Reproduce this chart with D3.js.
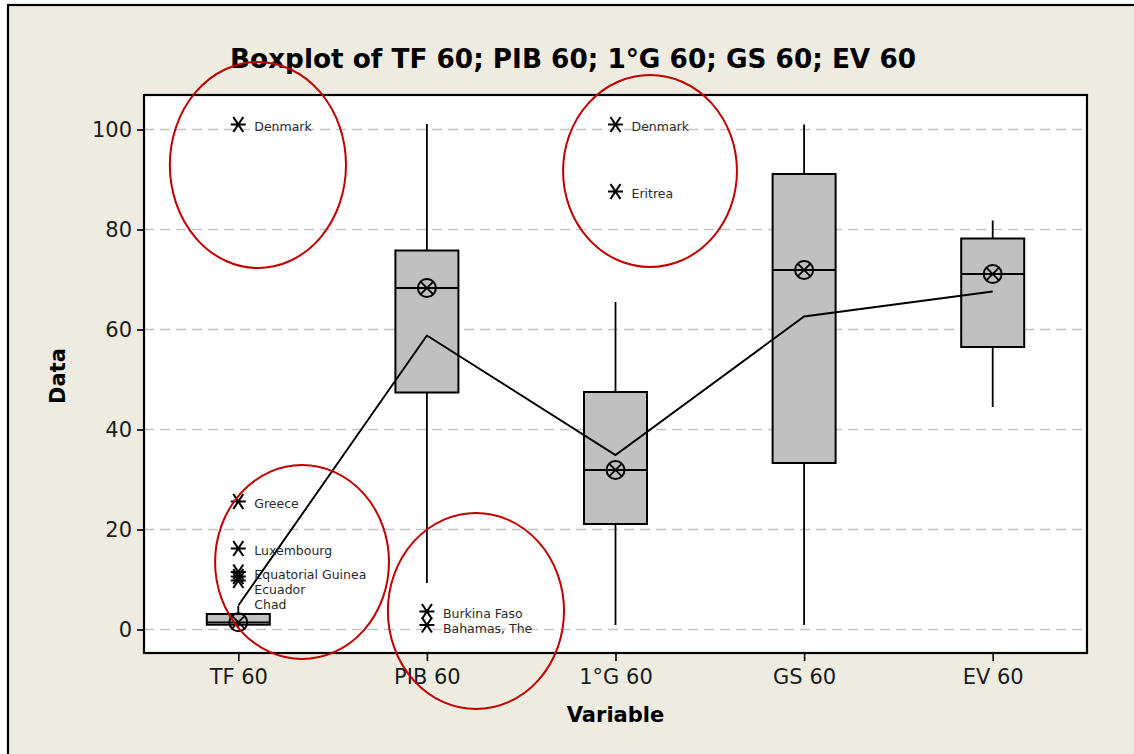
<!DOCTYPE html>
<html>
<head>
<meta charset="utf-8">
<script src="https://cdn.jsdelivr.net/npm/d3@7"></script>
<style>
  html, body { margin: 0; padding: 0; background: #ffffff; }
  svg { display: block; }
</style>
</head>
<body>
<svg id="chart" width="1134" height="754"></svg>
<script>
// ---- data ----
const categories = ["TF 60", "PIB 60", "1°G 60", "GS 60", "EV 60"];
const whiskerLow  = [0.3, 9.3, 0.9, 0.9, 44.5];
const q1          = [0.96, 47.4, 21.1, 33.3, 56.5];
const medians     = [1.44, 68.3, 31.9, 71.9, 71.1];
const q3          = [3.1, 75.8, 47.5, 91.1, 78.2];
const whiskerHigh = [4.7, 101.1, 65.5, 101.0, 81.8];
const means       = [4.8, 58.8, 34.9, 62.6, 67.6];

const outlierCategory = ["TF 60", "TF 60", "TF 60", "TF 60", "TF 60", "TF 60",
                         "PIB 60", "PIB 60", "1°G 60", "1°G 60"];
const outlierValue    = [101.0, 25.6, 16.2, 11.5, 10.6, 9.8, 3.6, 0.9, 101.0, 87.6];
const outlierLabel    = ["Denmark", "Greece", "Luxembourg", "Equatorial Guinea", "Ecuador", "Chad",
                         "Burkina Faso", "Bahamas, The", "Denmark", "Eritrea"];

const yTicks = [0, 20, 40, 60, 80, 100];

// highlight rings: centre (category index, value), radii (category steps, value units)
const ringIndex  = [0.104, 2.183, 0.338, 1.26];
const ringValue  = [92.9, 91.7, 13.5, 3.7];
const ringRx     = [0.467, 0.461, 0.461, 0.467];
const ringRy     = [20.6, 19.2, 19.4, 19.6];

// ---- layout ----
const svg = d3.select("#chart");
const W = 1134, H = 754;
const plot = { left: 144, top: 95, right: 1087, bottom: 653 };

const x = d3.scalePoint().domain(categories)
  .range([plot.left, plot.right]).padding(0.5);
const step = x.step();
const xi = d3.scaleLinear().domain([0, 1]).range([x(categories[0]), x(categories[0]) + step]);
const y = d3.scaleLinear().domain([-4.7, 106.9]).range([plot.bottom, plot.top]);

const ink = "#000000";
const textInk = "#1c1c1c";
const font = "DejaVu Sans, Verdana, sans-serif";

// outer panel (right and bottom edges run past the page)
svg.append("rect").attr("x", 8).attr("y", 5).attr("width", W + 20).attr("height", H + 20)
  .attr("fill", "#eeebe1").attr("stroke", "#000").attr("stroke-width", 2.2);

// plot area
svg.append("rect")
  .attr("x", plot.left).attr("y", plot.top)
  .attr("width", plot.right - plot.left).attr("height", plot.bottom - plot.top)
  .attr("fill", "#ffffff");

// grid lines
svg.append("g").selectAll("line").data(yTicks).join("line")
  .attr("x1", plot.left).attr("x2", plot.right)
  .attr("y1", d => y(d)).attr("y2", d => y(d))
  .attr("stroke", "#c4c4c4").attr("stroke-width", 1.6)
  .attr("stroke-dasharray", "10,6");

// y axis
const yAxis = svg.append("g").attr("transform", `translate(${plot.left},0)`)
  .call(d3.axisLeft(y).tickValues(yTicks).tickSize(7).tickPadding(5));
yAxis.select(".domain").remove();
yAxis.selectAll(".tick line").attr("stroke", ink).attr("stroke-width", 1.6);
yAxis.selectAll(".tick text")
  .attr("font-family", font).attr("font-size", 21).attr("fill", textInk);

// x axis
const xAxis = svg.append("g").attr("transform", `translate(0,${plot.bottom})`)
  .call(d3.axisBottom(x).tickSize(8).tickPadding(8));
xAxis.select(".domain").remove();
xAxis.selectAll(".tick line").attr("stroke", ink).attr("stroke-width", 1.6);
xAxis.selectAll(".tick text")
  .attr("font-family", font).attr("font-size", 21).attr("fill", textInk);

const idx = d3.range(categories.length);
const boxHalf = 31.5;

// whiskers
const boxes = svg.append("g");
boxes.selectAll("line.whi").data(idx).join("line").attr("class", "whi")
  .attr("x1", i => x(categories[i])).attr("x2", i => x(categories[i]))
  .attr("y1", i => y(q3[i])).attr("y2", i => y(whiskerHigh[i]))
  .attr("stroke", ink).attr("stroke-width", 1.8);
boxes.selectAll("line.wlo").data(idx).join("line").attr("class", "wlo")
  .attr("x1", i => x(categories[i])).attr("x2", i => x(categories[i]))
  .attr("y1", i => y(q1[i])).attr("y2", i => y(whiskerLow[i]))
  .attr("stroke", ink).attr("stroke-width", 1.8);

// boxes
boxes.selectAll("rect").data(idx).join("rect")
  .attr("x", i => x(categories[i]) - boxHalf).attr("width", boxHalf * 2)
  .attr("y", i => y(q3[i])).attr("height", i => y(q1[i]) - y(q3[i]))
  .attr("fill", "#c0c0c0").attr("stroke", ink).attr("stroke-width", 2);

// median lines
boxes.selectAll("line.med").data(idx).join("line").attr("class", "med")
  .attr("x1", i => x(categories[i]) - boxHalf).attr("x2", i => x(categories[i]) + boxHalf)
  .attr("y1", i => y(medians[i])).attr("y2", i => y(medians[i]))
  .attr("stroke", ink).attr("stroke-width", 1.8);

// mean connect line
svg.append("path")
  .datum(idx)
  .attr("d", d3.line().x(i => x(categories[i])).y(i => y(means[i])))
  .attr("fill", "none").attr("stroke", ink).attr("stroke-width", 1.9);

// median symbols (circle with cross)
const r = 9, c = r * 0.68;
const medSym = svg.append("g").selectAll("g").data(idx).join("g")
  .attr("transform", i => `translate(${x(categories[i])},${y(medians[i])})`);
medSym.append("circle").attr("r", r).attr("fill", "none")
  .attr("stroke", ink).attr("stroke-width", 2);
medSym.append("path").attr("d", `M${-c},${-c}L${c},${c}M${c},${-c}L${-c},${c}`)
  .attr("stroke", ink).attr("stroke-width", 1.8);

// outliers
const outliers = outlierValue.map((v, k) => ({
  cat: outlierCategory[k], value: v, label: outlierLabel[k]
}));
// label placement: stack downward so labels never overlap
d3.groups(outliers, d => d.cat).forEach(([, list]) => {
  list.sort((a, b) => b.value - a.value);
  let prev = -Infinity;
  list.forEach(d => {
    d.ly = Math.max(y(d.value), prev + 15);
    prev = d.ly;
  });
});

const star = "M-7.5,0L7.5,0M-5,-7.5L5,7.5M5,-7.5L-5,7.5";
const og = svg.append("g");
og.selectAll("path").data(outliers).join("path")
  .attr("transform", d => `translate(${x(d.cat)},${y(d.value)})`)
  .attr("d", star).attr("stroke", ink).attr("stroke-width", 2.1).attr("fill", "none");
og.selectAll("text").data(outliers).join("text")
  .attr("x", d => x(d.cat) + 16).attr("y", d => d.ly + 2)
  .attr("dominant-baseline", "central")
  .attr("font-family", font).attr("font-size", 12.5)
  .attr("fill", "#2a2a2a").text(d => d.label);

// plot frame
svg.append("rect")
  .attr("x", plot.left).attr("y", plot.top)
  .attr("width", plot.right - plot.left).attr("height", plot.bottom - plot.top)
  .attr("fill", "none").attr("stroke", ink).attr("stroke-width", 2.2);

// title
svg.append("text")
  .attr("x", 573).attr("y", 68).attr("text-anchor", "middle")
  .attr("font-family", font).attr("font-weight", "bold")
  .attr("font-size", 26).attr("textLength", 686).attr("lengthAdjust", "spacingAndGlyphs")
  .attr("fill", "#000").text("Boxplot of TF 60; PIB 60; 1°G 60; GS 60; EV 60");

// axis titles
svg.append("text")
  .attr("x", (plot.left + plot.right) / 2).attr("y", 722).attr("text-anchor", "middle")
  .attr("font-family", font).attr("font-weight", "bold")
  .attr("font-size", 21).attr("fill", "#000").text("Variable");
svg.append("text")
  .attr("transform", `translate(65,${(plot.top + plot.bottom) / 2 + 2}) rotate(-90)`)
  .attr("text-anchor", "middle")
  .attr("font-family", font).attr("font-weight", "bold")
  .attr("font-size", 21).attr("fill", "#000").text("Data");

// highlight rings
svg.append("g").selectAll("ellipse").data(d3.range(ringIndex.length)).join("ellipse")
  .attr("cx", k => xi(ringIndex[k]))
  .attr("cy", k => y(ringValue[k]))
  .attr("rx", k => xi(ringRx[k]) - xi(0))
  .attr("ry", k => y(0) - y(ringRy[k]))
  .attr("fill", "none").attr("stroke", "#c00000").attr("stroke-width", 2);
</script>
</body>
</html>
